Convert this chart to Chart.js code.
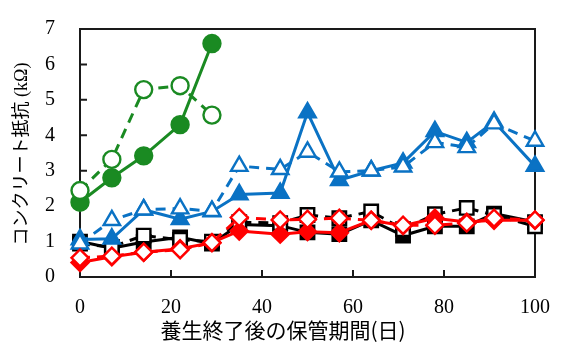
<!DOCTYPE html>
<html>
<head>
<meta charset="utf-8">
<script src="https://cdn.jsdelivr.net/npm/chart.js@4"></script>
<style>
  html, body { margin: 0; padding: 0; background: #fff; }
  #wrap { width: 561px; height: 347px; }
</style>
</head>
<body>
<div id="wrap"><canvas id="chart"></canvas></div>
<script>
// storage days (x) and concrete resistance in kOhm (y)
const days = [0, 7, 14, 22, 29, 35, 44, 50, 57, 64, 71, 78, 85, 91, 100];
const greenDays = [0, 7, 14, 22, 29];

const greenFilled = [2.11, 2.80, 3.42, 4.30, 6.59];
const greenOpen = [2.44, 3.32, 5.29, 5.40, 4.57];
const blueFilled = [1.06, 1.08, 1.90, 1.63, 1.85, 2.33, 2.37, 4.64, 2.73, 3.00, 3.22, 4.11, 3.80, 4.38, 3.13];
const blueOpen = [0.94, 1.60, 1.90, 1.93, 1.86, 3.13, 3.04, 3.53, 2.97, 3.00, 3.11, 3.80, 3.66, 4.33, 3.84];
const blackFilled = [1.00, 0.81, 0.99, 1.12, 0.94, 1.48, 1.45, 1.26, 1.21, 1.60, 1.17, 1.43, 1.43, 1.79, 1.55];
const blackOpen = [0.94, 0.85, 1.17, 1.05, 1.00, 1.55, 1.52, 1.75, 1.66, 1.85, 1.35, 1.77, 1.95, 1.75, 1.43];
const redFilled = [0.41, 0.57, 0.70, 0.80, 0.97, 1.30, 1.21, 1.28, 1.25, 1.60, 1.45, 1.66, 1.55, 1.60, 1.60];
const redOpen = [0.54, 0.59, 0.70, 0.77, 0.97, 1.68, 1.61, 1.63, 1.66, 1.60, 1.46, 1.46, 1.52, 1.66, 1.61];

const yTicks = [0, 1, 2, 3, 4, 5, 6, 7];
const xTicks = [0, 20, 40, 60, 80, 100];
const xTitle = "養生終了後の保管期間(日)";
const yTitle = "コンクリート抵抗 (kΩ)";

const green = "#1a8a22";
const blue = "#0a72c4";
const red = "#ff0000";
const black = "#000000";

const toPoints = (xs, ys) => xs.map((x, i) => ({ x: x, y: ys[i] }));

const series = (values, xs, colour, shape, filled, size) => ({
  data: toPoints(xs, values),
  showLine: true,
  borderColor: colour,
  borderWidth: 3,
  borderDash: filled ? [] : [10, 7],
  pointStyle: shape,
  pointRadius: size,
  pointBorderWidth: 2.4,
  pointBorderColor: colour,
  pointBackgroundColor: filled ? colour : "#ffffff",
  clip: false,
});

// frame round the plot area, inward tick marks and the axis titles
const frame = {
  id: "frame",
  beforeDatasetsDraw(chart) {
    const { ctx, chartArea, scales } = chart;
    ctx.save();
    ctx.strokeStyle = "#1a1a1a";
    ctx.lineWidth = 2;
    ctx.strokeRect(chartArea.left, chartArea.top, chartArea.right - chartArea.left, chartArea.bottom - chartArea.top);
    ctx.beginPath();
    yTicks.forEach((v) => {
      const y = scales.y.getPixelForValue(v);
      ctx.moveTo(chartArea.left, y);
      ctx.lineTo(chartArea.left + 7, y);
    });
    xTicks.forEach((v) => {
      const x = scales.x.getPixelForValue(v);
      ctx.moveTo(x, chartArea.bottom);
      ctx.lineTo(x, chartArea.bottom - 7);
    });
    ctx.stroke();

    ctx.fillStyle = "#000";
    ctx.textAlign = "center";
    ctx.textBaseline = "middle";
    ctx.font = '21px "Noto Sans CJK JP"';
    ctx.fillText(xTitle, chartArea.left + 203, 330);
    ctx.translate(22, 154);
    ctx.rotate(-Math.PI / 2);
    ctx.font = '18px "Liberation Serif", "Noto Sans CJK JP"';
    ctx.fillText(yTitle, 0, 0);
    ctx.restore();
  },
};

new Chart(document.getElementById("chart"), {
  type: "scatter",
  data: {
    datasets: [
      series(redOpen, days, red, "rectRot", false, 8.5),
      series(redFilled, days, red, "rectRot", true, 8.5),
      series(blueOpen, days, blue, "triangle", false, 9.5),
      series(blueFilled, days, blue, "triangle", true, 9.5),
      series(greenOpen, greenDays, green, "circle", false, 8.5),
      series(greenFilled, greenDays, green, "circle", true, 8.5),
      series(blackOpen, days, black, "rect", false, 9.5),
      series(blackFilled, days, black, "rect", true, 9.5),
    ],
  },
  plugins: [frame],
  options: {
    responsive: true,
    maintainAspectRatio: false,
    animation: false,
    layout: { padding: { top: 16, right: 21, left: 0, bottom: 0 } },
    plugins: { legend: { display: false }, tooltip: { enabled: false } },
    scales: {
      x: {
        type: "linear",
        min: 0,
        max: 100,
        afterBuildTicks: (scale) => { scale.ticks = xTicks.map((v) => ({ value: v })); },
        afterFit: (scale) => { scale.height = 70; },
        grid: { display: false },
        border: { display: false },
        ticks: { color: "#000", padding: 11, font: { family: "Liberation Serif", size: 20 } },
      },
      y: {
        min: 0,
        max: 7,
        afterBuildTicks: (scale) => { scale.ticks = yTicks.map((v) => ({ value: v })); },
        afterFit: (scale) => { scale.width = 80; },
        grid: { display: false },
        border: { display: false },
        ticks: { color: "#000", padding: 17, font: { family: "Liberation Serif", size: 20 } },
      },
    },
  },
});
</script>
</body>
</html>
